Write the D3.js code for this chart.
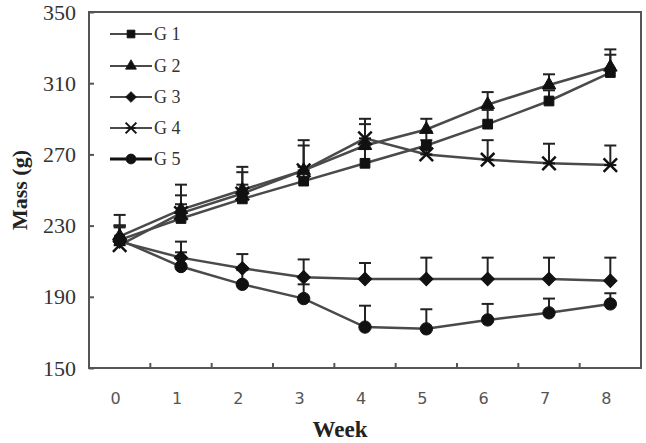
<!DOCTYPE html>
<html>
<head>
<meta charset="utf-8">
<script src="https://cdn.jsdelivr.net/npm/d3@7"></script>
<style>
  body { margin: 0; background: #fff; }
</style>
</head>
<body>
<svg></svg>
<script>
const WIDTH = 646;
const HEIGHT = 443;

// data
const weeks = [0, 1, 2, 3, 4, 5, 6, 7, 8];
const yTicks = [150, 190, 230, 270, 310, 350];
const groups = ["G 1", "G 2", "G 3", "G 4", "G 5"];
const g1 = [222, 234, 245, 255, 265, 275, 287, 300, 316];
const g2 = [224, 239, 250, 261, 275, 284, 298, 309, 319];
const g3 = [221, 212, 206, 201, 200, 200, 200, 200, 199];
const g4 = [219, 237, 248, 261, 279, 270, 267, 265, 264];
const g5 = [222, 207, 197, 189, 173, 172, 177, 181, 186];
const e1 = [8, 8, 8, 8, 8, 8, 8, 6, 10];
const e2 = [12, 14, 13, 17, 12, 6, 7, 6, 10];
const e3 = [9, 9, 8, 10, 9, 12, 12, 12, 13];
const e4 = [10, 10, 12, 14, 11, 8, 11, 11, 11];
const e5 = [8, 8, 8, 8, 12, 11, 9, 8, 6];

const series = [
    { name: groups[0], values: g1, err: e1, shape: "square" },
    { name: groups[1], values: g2, err: e2, shape: "triangle" },
    { name: groups[2], values: g3, err: e3, shape: "diamond" },
    { name: groups[3], values: g4, err: e4, shape: "star" },
    { name: groups[4], values: g5, err: e5, shape: "circle" }
];

const LEFT = 89, RIGHT = 641, TOP = 12, BOTTOM = 368;
const LINE = "#4a4a4a";

let svg = d3.select("svg")
    .attr("width", WIDTH)
    .attr("height", HEIGHT);

let x = d3.scaleBand()
    .domain(weeks)
    .range([LEFT, RIGHT]);

let y = d3.scaleLinear()
    .domain([150, 350])
    .range([BOTTOM, TOP]);

let cx = (w) => x(w) + x.bandwidth() / 2;

function symbolPath(shape) {
    if (shape === "square") return d3.symbol(d3.symbolSquare, 95)();
    if (shape === "triangle") return d3.symbol(d3.symbolTriangle, 80)();
    if (shape === "diamond") return d3.symbol(d3.symbolSquare, 90)();
    if (shape === "circle") return d3.symbol(d3.symbolCircle, 120)();
    return d3.symbol(d3.symbolX, 120)();
}

function drawMarker(g, shape) {
    if (shape === "star") {
        g.append("path")
            .attr("d", symbolPath(shape))
            .style("fill", "none")
            .style("stroke", "#111")
            .style("stroke-width", 2.5);
        g.append("line")
            .attr("x1", -6).attr("x2", 6)
            .attr("y1", 0).attr("y2", 0)
            .style("stroke", "#111")
            .style("stroke-width", 2);
    } else {
        g.append("path")
            .attr("d", symbolPath(shape))
            .attr("transform", shape === "diamond" ? "rotate(45)" : null)
            .style("fill", "#111")
            .style("stroke", "#111")
            .style("stroke-width", 1);
    }
}

// frame
svg.append("rect")
    .attr("x", LEFT)
    .attr("y", TOP)
    .attr("width", RIGHT - LEFT)
    .attr("height", BOTTOM - TOP)
    .style("fill", "none")
    .style("stroke", "#555")
    .style("stroke-width", 2);

// y axis
let yAxis = svg.append("g")
    .attr("transform", `translate(${LEFT},0)`)
    .call(d3.axisLeft(y).tickValues(yTicks).tickSizeInner(-5).tickSizeOuter(0).tickPadding(13));
yAxis.select(".domain").remove();
yAxis.selectAll("line").style("stroke", "#555").style("stroke-width", 2);
yAxis.selectAll("text")
    .style("font-family", "Liberation Serif, serif")
    .style("font-size", "22px")
    .style("fill", "#333");

// x axis: ticks between weeks, labels in the bands
let xAxis = svg.append("g")
    .attr("transform", `translate(0,${BOTTOM})`);
xAxis.selectAll("line")
    .data(weeks.slice(1))
    .join("line")
    .attr("x1", (d) => x(d))
    .attr("x2", (d) => x(d))
    .attr("y1", 0)
    .attr("y2", -5)
    .style("stroke", "#555")
    .style("stroke-width", 2);
xAxis.selectAll("text")
    .data(weeks)
    .join("text")
    .attr("x", (d) => cx(d) - 4)
    .attr("y", 36)
    .attr("text-anchor", "middle")
    .style("font-family", "DejaVu Sans, sans-serif")
    .style("font-size", "16px")
    .style("fill", "#555")
    .text((d) => d);

// axis titles
svg.append("text")
    .attr("x", 340)
    .attr("y", 437)
    .attr("text-anchor", "middle")
    .style("font-family", "Liberation Serif, serif")
    .style("font-weight", "bold")
    .style("font-size", "23px")
    .style("fill", "#222")
    .text("Week");

svg.append("text")
    .attr("transform", "translate(27,190) rotate(-90)")
    .attr("text-anchor", "middle")
    .style("font-family", "Liberation Serif, serif")
    .style("font-weight", "bold")
    .style("font-size", "22px")
    .style("fill", "#222")
    .text("Mass (g)");

let line = d3.line()
    .x((d, i) => cx(weeks[i]))
    .y((d) => y(d));

// error bars (upper half only)
series.forEach((s) => {
    let eb = svg.append("g")
        .style("stroke", "#222")
        .style("stroke-width", 2);
    s.values.forEach((v, i) => {
        let px = cx(weeks[i]);
        eb.append("line")
            .attr("x1", px).attr("x2", px)
            .attr("y1", y(v)).attr("y2", y(v + s.err[i]));
        eb.append("line")
            .attr("x1", px - 6).attr("x2", px + 6)
            .attr("y1", y(v + s.err[i])).attr("y2", y(v + s.err[i]));
    });
});

// lines
series.forEach((s) => {
    svg.append("path")
        .attr("d", line(s.values))
        .style("fill", "none")
        .style("stroke", LINE)
        .style("stroke-width", 2.5);
});

// markers
series.forEach((s) => {
    s.values.forEach((v, i) => {
        let g = svg.append("g")
            .attr("transform", `translate(${cx(weeks[i])},${y(v)})`);
        drawMarker(g, s.shape);
    });
});

// legend
const legendY = [34, 66, 97, 128, 159];
series.forEach((s, i) => {
    let g = svg.append("g")
        .attr("transform", `translate(110,${legendY[i]})`);
    g.append("line")
        .attr("x1", 0).attr("x2", 42)
        .attr("y1", 0).attr("y2", 0)
        .style("stroke", s.shape === "circle" ? "#111" : LINE)
        .style("stroke-width", s.shape === "circle" ? 3 : 2);
    let m = g.append("g").attr("transform", "translate(21,0) scale(0.8)");
    drawMarker(m, s.shape);
    g.append("text")
        .attr("x", 44)
        .attr("y", 6)
        .style("font-family", "Liberation Serif, serif")
        .style("font-size", "18px")
        .style("fill", "#333")
        .text(s.name);
});
</script>
</body>
</html>
